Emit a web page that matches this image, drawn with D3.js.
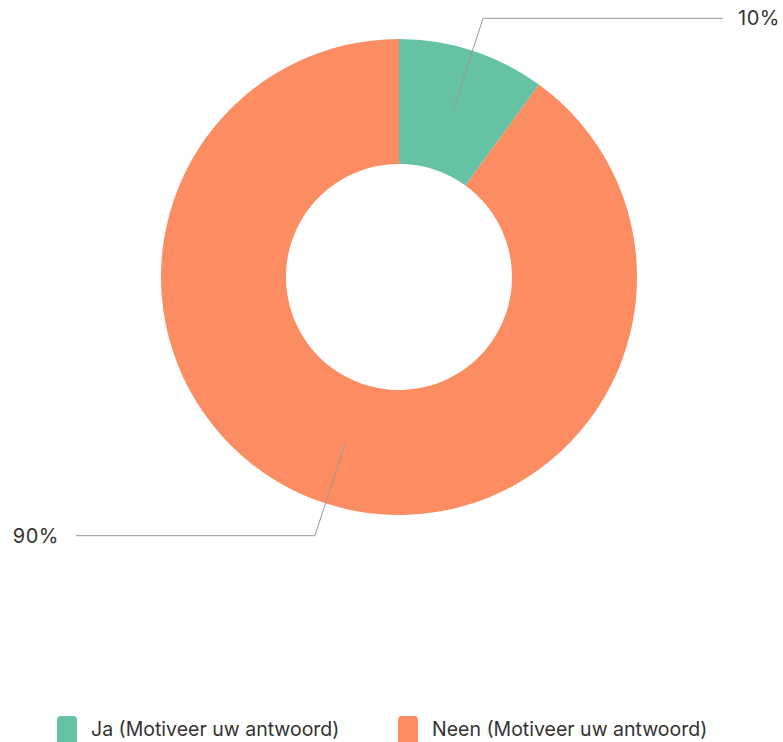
<!DOCTYPE html>
<html>
<head>
<meta charset="utf-8">
<script src="https://cdn.jsdelivr.net/npm/d3@7"></script>
<style>
  body { margin: 0; background: #fff; }
  text { font-family: Inter, "Noto Sans", sans-serif; fill: #333; }
</style>
</head>
<body>
<div id="chart_donut"></div>
<script>
const categories = ["Ja (Motiveer uw antwoord)", "Neen (Motiveer uw antwoord)"];
const values = [10, 90];
const colors = ["#66c2a5", "#fc8d62"];

const width = 783,
    height = 742,
    cx = 399,
    cy = 277,
    outer = 238,
    inner = 113,
    labelR = 272;

const svg = d3.select("#chart_donut")
  .append("svg")
  .attr("width", width)
  .attr("height", height)
  .attr("viewBox", [0, 0, width, height]);

const data = categories.map((c, i) => ({ name: c, value: values[i], color: colors[i] }));
const total = d3.sum(values);

const pie = d3.pie().sort(null).value(d => d.value);
const arcs = pie(data);

const arc = d3.arc().innerRadius(inner).outerRadius(outer);
const midArc = d3.arc().innerRadius((inner + outer) / 2).outerRadius((inner + outer) / 2);
const farArc = d3.arc().innerRadius(labelR).outerRadius(labelR);

const g = svg.append("g").attr("transform", `translate(${cx},${cy})`);

g.selectAll("path.slice")
  .data(arcs)
  .join("path")
  .attr("class", "slice")
  .attr("d", arc)
  .attr("fill", d => d.data.color);

// leader lines: from mid ring, out to elbow, then across
const lineEnd = { right: 723 - cx, left: 76 - cx };

arcs.forEach(a => {
  const p0 = midArc.centroid(a);
  const p1 = farArc.centroid(a);
  const right = p1[0] > 0;
  const x2 = right ? lineEnd.right : lineEnd.left;
  g.append("polyline")
    .attr("points", [p0, p1, [x2, p1[1]]].map(p => p.join(",")).join(" "))
    .attr("fill", "none")
    .attr("stroke", "#999")
    .attr("stroke-width", 1);
  g.append("text")
    .attr("x", right ? x2 + 15 : x2 - 17)
    .attr("y", p1[1])
    .attr("dy", "0.35em")
    .attr("text-anchor", right ? "start" : "end")
    .attr("font-size", 20)
    .attr("letter-spacing", 0.5)
    .text(Math.round(a.data.value / total * 100) + "%");
});

// legend (sits at the very bottom edge, as in the original)
const legendX = [57, 398];
const legend = svg.append("g");
data.forEach((d, i) => {
  legend.append("rect")
    .attr("x", legendX[i])
    .attr("y", 716)
    .attr("width", 20)
    .attr("height", 30)
    .attr("rx", 4)
    .attr("fill", d.color);
  legend.append("text")
    .attr("x", legendX[i] + 34)
    .attr("y", 729)
    .attr("dy", "0.35em")
    .attr("font-size", 19.5)
    .text(d.name);
});
</script>
</body>
</html>
